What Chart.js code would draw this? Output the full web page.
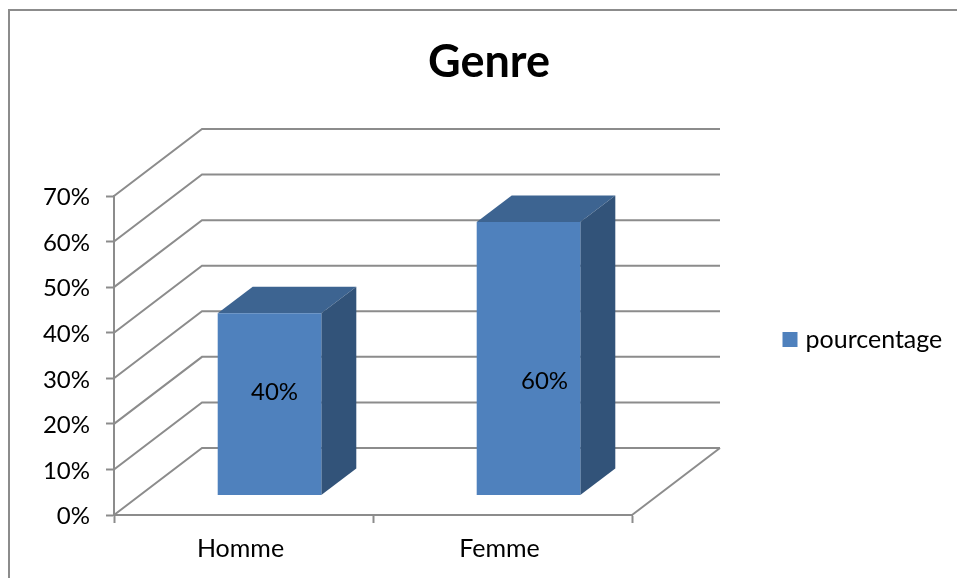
<!DOCTYPE html>
<html>
<head>
<meta charset="utf-8">
<title>Genre</title>
<script src="https://cdn.jsdelivr.net/npm/chart.js@4/dist/chart.umd.js"></script>
<style>
  html, body { margin: 0; padding: 0; background: #fff; }
  canvas { display: block; }
</style>
</head>
<body>
<canvas id="myChart" width="957" height="578"></canvas>
<script>
const categories = ['Homme', 'Femme'];
const seriesName = 'pourcentage';
const pourcentage = [40, 60];

const fontName = 'Lato, "Open Sans", sans-serif';
const lineColor = '#8c8c8c';
const frontColor = '#4F81BD';
const topColor = '#3D6491';
const sideColor = '#325379';

// fake 3D: how far the back wall sits from the axes, and the bars from the axes
const wallDepth = { x: 88, y: -67 };
const barShift = { x: 26, y: -19.5 };
const barDepth = { x: 35, y: -26.5 };
// the labels in the picture do not sit in the middle of the bars
const labelNudge = [{ x: 5, y: -12 }, { x: 16, y: 23 }];

const fake3d = {
  id: 'fake3d',
  afterLayout(chart) {
    // the title is not centred on the canvas in the picture
    chart.titleBlock.left = 21;
    chart.titleBlock.right = 957;
    const legend = chart.legend;
    legend.left = 777;
    legend.right = 957;
    legend.top = 317;
    legend.bottom = 367;
  },
  beforeDraw(chart) {
    const ctx = chart.ctx;
    ctx.save();
    ctx.strokeStyle = lineColor;
    ctx.lineWidth = 2;
    ctx.beginPath();
    ctx.moveTo(9, 578);
    ctx.lineTo(9, 10);
    ctx.lineTo(957, 10);
    ctx.stroke();
    ctx.restore();
  },
  beforeDatasetsDraw(chart) {
    const ctx = chart.ctx;
    const x = chart.scales.x;
    const y = chart.scales.y;

    ctx.save();
    ctx.strokeStyle = lineColor;
    ctx.lineWidth = 2;
    y.ticks.forEach(t => {
      const py = y.getPixelForValue(t.value);
      ctx.beginPath();
      ctx.moveTo(x.left, py);
      ctx.lineTo(x.left + wallDepth.x, py + wallDepth.y);
      ctx.lineTo(x.right + wallDepth.x, py + wallDepth.y);
      ctx.stroke();
    });
    const py0 = y.getPixelForValue(0);
    ctx.beginPath();
    ctx.moveTo(x.right, py0);
    ctx.lineTo(x.right + wallDepth.x, py0 + wallDepth.y);
    ctx.stroke();
    ctx.restore();

    // everything in the dataset layer is moved onto the floor, restored after
    ctx.save();
    ctx.translate(barShift.x, barShift.y);
    chart.getDatasetMeta(0).data.forEach(bar => {
      const p = bar.getProps(['x', 'y', 'base', 'width'], true);
      const l = p.x - p.width / 2;
      const r = p.x + p.width / 2;

      ctx.fillStyle = topColor;
      ctx.beginPath();
      ctx.moveTo(l, p.y);
      ctx.lineTo(l + barDepth.x, p.y + barDepth.y);
      ctx.lineTo(r + barDepth.x, p.y + barDepth.y);
      ctx.lineTo(r, p.y);
      ctx.closePath();
      ctx.fill();

      ctx.fillStyle = sideColor;
      ctx.beginPath();
      ctx.moveTo(r, p.y);
      ctx.lineTo(r + barDepth.x, p.y + barDepth.y);
      ctx.lineTo(r + barDepth.x, p.base + barDepth.y);
      ctx.lineTo(r, p.base);
      ctx.closePath();
      ctx.fill();
    });
  },
  afterDatasetsDraw(chart) {
    const ctx = chart.ctx;
    ctx.restore();

    ctx.save();
    ctx.fillStyle = '#000';
    ctx.font = '24px ' + fontName;
    ctx.textAlign = 'center';
    ctx.textBaseline = 'middle';
    chart.getDatasetMeta(0).data.forEach((bar, i) => {
      const p = bar.getProps(['x', 'y', 'base'], true);
      const cx = p.x + barShift.x + labelNudge[i].x;
      const cy = (p.y + p.base) / 2 + barShift.y + labelNudge[i].y;
      ctx.fillText(pourcentage[i] + '%', cx, cy);
    });
    ctx.restore();
  }
};

const data = {
  labels: categories,
  datasets: [
    {
      label: seriesName,
      data: pourcentage,
      backgroundColor: frontColor,
      borderWidth: 0,
      barPercentage: 1,
      categoryPercentage: 0.4
    }
  ]
};

const config = {
  type: 'bar',
  data: data,
  plugins: [fake3d],
  options: {
    responsive: false,
    animation: false,
    events: [],
    layout: { padding: { left: 0, right: 325, top: 0, bottom: 0 } },
    plugins: {
      tooltip: { enabled: false },
      title: {
        display: true,
        text: 'Genre',
        color: '#000',
        font: { family: fontName, size: 45, weight: 'bold', lineHeight: 1.2 },
        padding: { top: 35, bottom: 107 }
      },
      legend: {
        position: 'chartArea',
        align: 'start',
        labels: {
          color: '#000',
          font: { family: fontName, size: 25 },
          boxWidth: 6,
          boxHeight: 6,
          padding: 10,
          // thick outline around a small box, keeps the text close to the swatch
          generateLabels: () => [{
            text: seriesName,
            fillStyle: frontColor,
            strokeStyle: frontColor,
            lineWidth: 9,
            datasetIndex: 0
          }]
        }
      }
    },
    scales: {
      x: {
        afterFit(scale) { scale.height = 63; },
        border: { color: lineColor, width: 2 },
        grid: { drawOnChartArea: false, color: lineColor, tickLength: 8, tickWidth: 2 },
        ticks: { color: '#000', font: { family: fontName, size: 25 }, padding: 11, labelOffset: -3, maxRotation: 0 }
      },
      y: {
        min: 0,
        max: 70,
        afterFit(scale) { scale.width = 114; },
        border: { color: lineColor, width: 2 },
        grid: { drawOnChartArea: false, color: lineColor, tickLength: 8, tickWidth: 2 },
        ticks: {
          stepSize: 10,
          color: '#000',
          font: { family: fontName, size: 24 },
          padding: 16,
          labelOffset: 1.5,
          callback: value => value + '%'
        }
      }
    }
  }
};

/* Rendering the Chart */
const myChart = new Chart(document.getElementById('myChart'), config);
</script>
</body>
</html>
